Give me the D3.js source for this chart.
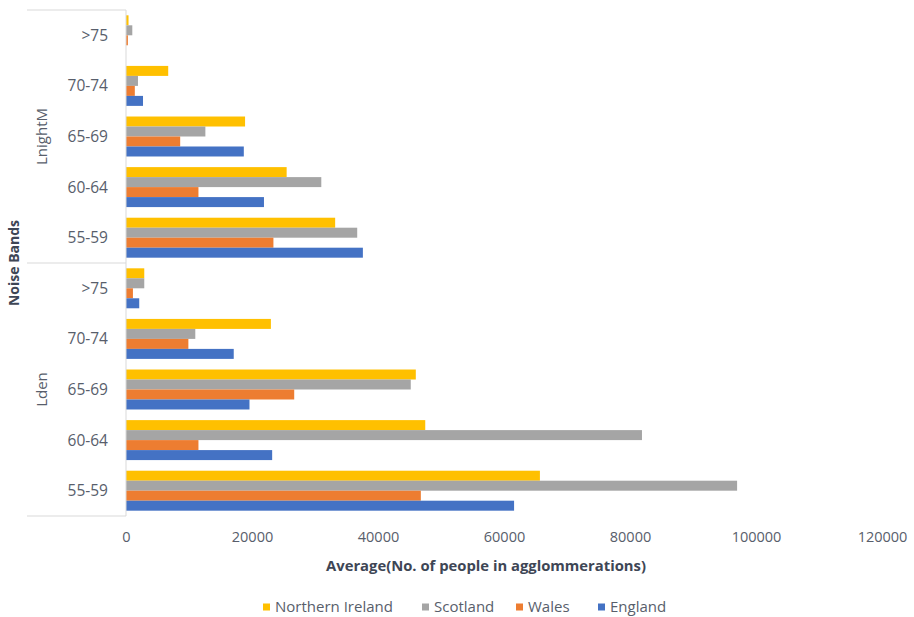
<!DOCTYPE html>
<html>
<head>
<meta charset="utf-8">
<script src="https://cdn.jsdelivr.net/npm/d3@7"></script>
<style>
  html, body { margin: 0; padding: 0; background: #fff; }
  svg { display: block; font-family: "Open Sans", "Noto Sans", sans-serif; }
</style>
</head>
<body>
<svg id="chart" width="914" height="617"></svg>
<script>
// ---- data ----
const groups = ["LnightM", "Lden"];
const bands = [">75", "70-74", "65-69", "60-64", "55-59"];
const seriesNames = ["Northern Ireland", "Scotland", "Wales", "England"];
const seriesColors = ["#FFC000", "#A5A5A5", "#ED7D31", "#4472C4"];
const xTicks = [0, 20000, 40000, 60000, 80000, 100000, 120000];

// values in order of bands (>75, 70-74, 65-69, 60-64, 55-59)
const lnightNorthernIreland = [400, 6700, 18900, 25500, 33200];
const lnightScotland        = [1000, 1900, 12600, 31000, 36700];
const lnightWales           = [300, 1400, 8600, 11500, 23400];
const lnightEngland         = [0, 2700, 18700, 21900, 37600];

const ldenNorthernIreland = [2900, 23000, 46000, 47500, 65700];
const ldenScotland        = [2900, 11000, 45200, 81900, 97000];
const ldenWales           = [1100, 9900, 26700, 11500, 46800];
const ldenEngland         = [2100, 17100, 19600, 23200, 61600];

const groupValues = {
  "LnightM": [lnightNorthernIreland, lnightScotland, lnightWales, lnightEngland],
  "Lden": [ldenNorthernIreland, ldenScotland, ldenWales, ldenEngland]
};

(function () {
// build rows
const rows = [];
groups.forEach(g => bands.forEach((b, i) => {
  rows.push({ key: g + "|" + b, group: g, band: b,
    values: seriesNames.map((s, k) => ({ series: s, k, value: groupValues[g][k][i] })) });
}));

// ---- layout ----
const svg = d3.select("#chart");
const textColor = "#585e6b";
const titleColor = "#3e4655";
const pLeft = 126, pRight = 882, pTop = 10, pBottom = 516;

const x = d3.scaleLinear().domain([0, 120000]).range([pLeft, pRight]);
const y = d3.scaleBand().domain(rows.map(r => r.key)).range([pTop, pBottom])
  .paddingInner(0.21).paddingOuter(0.105);
const ySub = d3.scaleBand().domain(seriesNames).range([0, y.bandwidth()]);

// bars
const rowG = svg.append("g").selectAll("g").data(rows).join("g")
  .attr("transform", d => `translate(0,${y(d.key)})`);
rowG.selectAll("rect").data(d => d.values).join("rect")
  .attr("x", x(0))
  .attr("y", d => ySub(d.series))
  .attr("width", d => Math.max(0, x(d.value) - x(0)))
  .attr("height", ySub.bandwidth())
  .attr("fill", d => seriesColors[d.k]);

// vertical axis line
svg.append("line").attr("x1", pLeft).attr("x2", pLeft).attr("y1", pTop).attr("y2", pBottom)
  .attr("stroke", "#D9D9D9").attr("stroke-width", 1);

// group separators
const sepYs = [pTop, y(rows[bands.length].key) - y.step() * y.paddingInner() / 2, pBottom];
svg.append("g").selectAll("line").data(sepYs).join("line")
  .attr("x1", 27).attr("x2", pLeft).attr("y1", d => d).attr("y2", d => d)
  .attr("stroke", "#D9D9D9").attr("stroke-width", 1);

// category labels
svg.append("g").selectAll("text").data(rows).join("text")
  .attr("x", 108).attr("y", d => y(d.key) + y.bandwidth() / 2)
  .attr("dy", "0.35em").attr("text-anchor", "end")
  .attr("font-size", 15.5).attr("fill", textColor)
  .text(d => d.band);

// group labels
groups.forEach((g, gi) => {
  const y0 = sepYs[gi], y1 = sepYs[gi + 1];
  svg.append("text")
    .attr("transform", `translate(42,${(y0 + y1) / 2}) rotate(-90)`)
    .attr("text-anchor", "middle").attr("dy", "0.35em")
    .attr("font-size", 15).attr("fill", textColor).text(g);
});

// y title
svg.append("text")
  .attr("transform", `translate(14,${(pTop + pBottom) / 2}) rotate(-90)`)
  .attr("text-anchor", "middle").attr("dy", "0.35em")
  .attr("font-size", 14).attr("font-weight", "bold").attr("fill", titleColor)
  .text("Noise Bands");

// x axis
const xAxis = d3.axisBottom(x).tickValues(xTicks).tickFormat(d3.format("d")).tickSize(0).tickPadding(0);
const xg = svg.append("g").attr("transform", `translate(0,${pBottom})`).call(xAxis);
xg.select(".domain").remove();
xg.selectAll("text").attr("y", 21).attr("dy", "0.35em")
  .attr("font-size", 14.5).attr("fill", textColor)
  .attr("font-family", "\"Open Sans\", sans-serif");

// x title
svg.append("text").attr("x", 486).attr("y", 566).attr("dy", "0.35em")
  .attr("text-anchor", "middle").attr("font-size", 14.8).attr("font-weight", "bold")
  .attr("fill", titleColor).text("Average(No. of people in agglommerations)");

// legend
const legendX = [263, 422, 516, 598];
const lg = svg.append("g").selectAll("g").data(seriesNames).join("g")
  .attr("transform", (d, i) => `translate(${legendX[i]},607)`);
lg.append("rect").attr("x", 0).attr("y", -3.5).attr("width", 7).attr("height", 7)
  .attr("fill", (d, i) => seriesColors[i]);
lg.append("text").attr("x", 12).attr("dy", "0.35em").attr("font-size", 15)
  .attr("fill", textColor).text(d => d);
})();
</script>
</body>
</html>
